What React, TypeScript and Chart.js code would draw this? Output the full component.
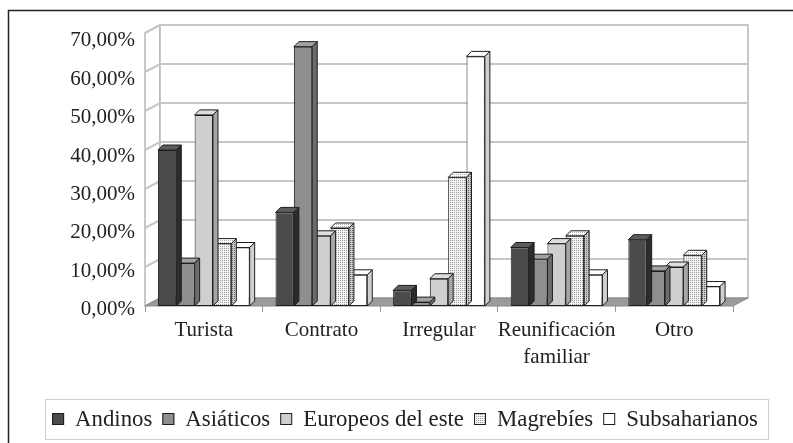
import React, { useEffect, useRef } from 'react';
import { Chart, registerables } from 'chart.js';

Chart.register(...registerables);

const categories: (string | string[])[] = ['Turista', 'Contrato', 'Irregular', ['Reunificación', 'familiar'], 'Otro'];
const seriesNames = ['Andinos', 'Asiáticos', 'Europeos del este', 'Magrebíes', 'Subsaharianos'];
const andinos = [40, 24, 4, 15, 17];
const asiaticos = [11, 66.5, 1, 12, 9];
const europeos = [49, 18, 7, 16, 10];
const magrebies = [16, 20, 33, 18, 13];
const subsaharianos = [15, 8, 64, 8, 5];
const yTicks = [0, 10, 20, 30, 40, 50, 60, 70];

const FONT = "'Liberation Serif', 'Times New Roman', serif";

function makePattern(bg: string, dot: string): CanvasPattern | string {
  const c = document.createElement('canvas');
  c.width = 4;
  c.height = 4;
  const g = c.getContext('2d');
  if (!g) return bg;
  g.fillStyle = bg;
  g.fillRect(0, 0, 4, 4);
  g.fillStyle = dot;
  g.fillRect(0, 0, 1, 1);
  g.fillRect(2, 2, 1, 1);
  g.fillRect(2, 0, 1, 1);
  g.fillRect(0, 2, 1, 1);
  const p = g.createPattern(c, 'repeat');
  return p || bg;
}

export default function App() {
  const ref = useRef<HTMLCanvasElement | null>(null);

  useEffect(() => {
    const canvas = ref.current;
    if (!canvas) return;

    const front: any[] = ['#4b4b4b', '#8e8e8e', '#cfcfcf', makePattern('#f4f4f4', '#9a9a9a'), '#ffffff'];
    const topC: any[] = ['#5c5c5c', '#a2a2a2', '#dedede', makePattern('#ffffff', '#b0b0b0'), '#ffffff'];
    const sideC: any[] = ['#2c2c2c', '#6c6c6c', '#a6a6a6', makePattern('#c8c8c8', '#6a6a6a'), '#cfcfcf'];
    const seriesData = [andinos, asiaticos, europeos, magrebies, subsaharianos];

    const DX = 15;
    const DY = 8;
    const BD = 5;

    const plugin = {
      id: 'excel3d',
      beforeDraw(chart: any) {
        const ctx = chart.ctx;
        ctx.save();
        ctx.fillStyle = '#ffffff';
        ctx.fillRect(0, 0, chart.width, chart.height);
        ctx.strokeStyle = '#222';
        ctx.lineWidth = 1.5;
        ctx.beginPath();
        ctx.moveTo(8.5, chart.height);
        ctx.lineTo(8.5, 10.5);
        ctx.lineTo(chart.width, 10.5);
        ctx.stroke();
        ctx.restore();
      },
      beforeDatasetsDraw(chart: any) {
        const ctx = chart.ctx;
        const { left, right, top, bottom } = chart.chartArea;
        const y = chart.scales.y;
        ctx.save();
        ctx.fillStyle = '#ffffff';
        ctx.strokeStyle = '#b8b8b8';
        ctx.lineWidth = 1.5;
        ctx.beginPath();
        ctx.moveTo(left, top);
        ctx.lineTo(left + DX, top - DY);
        ctx.lineTo(left + DX, bottom - DY);
        ctx.lineTo(left, bottom);
        ctx.closePath();
        ctx.fill();
        ctx.stroke();
        ctx.beginPath();
        ctx.rect(left + DX, top - DY, right - left, bottom - top);
        ctx.fill();
        ctx.stroke();
        ctx.strokeStyle = '#c6c6c6';
        ctx.lineWidth = 2;
        for (const v of yTicks) {
          if (v === 0) continue;
          const py = y.getPixelForValue(v);
          ctx.beginPath();
          ctx.moveTo(left, py);
          ctx.lineTo(left + DX, py - DY);
          ctx.lineTo(right + DX, py - DY);
          ctx.stroke();
        }
        ctx.fillStyle = '#9b9b9b';
        ctx.strokeStyle = '#8a8a8a';
        ctx.lineWidth = 1;
        ctx.beginPath();
        ctx.moveTo(left, bottom);
        ctx.lineTo(left + DX, bottom - DY);
        ctx.lineTo(right + DX, bottom - DY);
        ctx.lineTo(right, bottom);
        ctx.closePath();
        ctx.fill();
        ctx.stroke();
        ctx.restore();
      },
      afterDatasetDraw(chart: any, args: any) {
        const ctx = chart.ctx;
        const i = args.index;
        const meta = args.meta;
        ctx.save();
        ctx.strokeStyle = '#1e1e1e';
        ctx.lineWidth = 1;
        for (const el of meta.data) {
          const p = el.getProps(['x', 'y', 'base', 'width'], true);
          const l = p.x - p.width / 2;
          const r = p.x + p.width / 2;
          const t = Math.min(p.y, p.base);
          const b = Math.max(p.y, p.base);
          ctx.fillStyle = topC[i];
          ctx.beginPath();
          ctx.moveTo(l, t);
          ctx.lineTo(l + BD, t - BD);
          ctx.lineTo(r + BD, t - BD);
          ctx.lineTo(r, t);
          ctx.closePath();
          ctx.fill();
          ctx.stroke();
          ctx.fillStyle = sideC[i];
          ctx.beginPath();
          ctx.moveTo(r, t);
          ctx.lineTo(r + BD, t - BD);
          ctx.lineTo(r + BD, b - BD);
          ctx.lineTo(r, b);
          ctx.closePath();
          ctx.fill();
          ctx.stroke();
        }
        ctx.restore();
      },
      afterDraw(chart: any) {
        const ctx = chart.ctx;
        ctx.save();
        ctx.strokeStyle = '#cfcfcf';
        ctx.lineWidth = 1;
        ctx.strokeRect(45.5, 399.5, 723, 40);
        ctx.font = `22.8px ${FONT}`;
        ctx.textBaseline = 'alphabetic';
        const box = 12;
        const gapText = 11;
        const gapItem = 10;
        const widths = seriesNames.map((n) => ctx.measureText(n).width);
        let total = 0;
        widths.forEach((w, k) => {
          total += box + gapText + w + (k < widths.length - 1 ? gapItem : 0);
        });
        let x = 405 - total / 2;
        seriesNames.forEach((n, k) => {
          ctx.fillStyle = front[k];
          ctx.fillRect(x, 413, box, box);
          ctx.strokeStyle = '#1e1e1e';
          ctx.strokeRect(x + 0.5, 413.5, box - 1, box - 1);
          ctx.fillStyle = '#222';
          ctx.fillText(n, x + box + gapText, 426);
          x += box + gapText + widths[k] + gapItem;
        });
        ctx.restore();
      },
    };

    const labelMin = 0.912;
    const labelMax = 72.08;

    const chart = new Chart(canvas, {
      type: 'bar',
      data: {
        labels: categories as any,
        datasets: seriesNames.map((name, i) => ({
          label: name,
          data: seriesData[i],
          backgroundColor: front[i],
          borderColor: '#1e1e1e',
          borderWidth: 1,
          borderSkipped: false,
          categoryPercentage: 0.78,
          barPercentage: 1.0,
          yAxisID: 'y',
        })),
      },
      options: {
        responsive: false,
        animation: false,
        devicePixelRatio: 1,
        layout: { padding: { left: 0, right: 60, top: 33, bottom: 0 } },
        plugins: {
          legend: { display: false },
          tooltip: { enabled: false },
        },
        scales: {
          x: {
            type: 'category',
            offset: true,
            grid: {
              display: true,
              drawOnChartArea: false,
              drawTicks: true,
              tickLength: 6,
              offset: true,
              color: '#9a9a9a',
            },
            border: { display: false },
            ticks: {
              font: { family: FONT, size: 21, lineHeight: 1.3 },
              color: '#222',
              padding: 5,
              maxRotation: 0,
              autoSkip: false,
            },
            afterFit: (s: any) => {
              s.height = 137;
            },
          },
          y: {
            display: false,
            min: 0,
            max: 70,
          },
          yl: {
            type: 'linear',
            position: 'left',
            min: labelMin,
            max: labelMax,
            grid: { display: false, drawTicks: false },
            border: { display: false },
            ticks: {
              font: { family: FONT, size: 21 },
              color: '#222',
              padding: 10,
              autoSkip: false,
              callback: (v: any) => Number(v).toFixed(2).replace('.', ',') + '%',
            },
            afterBuildTicks: (s: any) => {
              s.ticks = yTicks.map((v) => ({ value: v }));
            },
            afterFit: (s: any) => {
              s.width = 145;
            },
          },
        } as any,
      },
      plugins: [plugin],
    });

    return () => {
      chart.destroy();
    };
  }, []);

  return (
    <canvas
      ref={ref}
      width={793}
      height={443}
      style={{ position: 'fixed', left: 0, top: 0, width: 793, height: 443, display: 'block' }}
    />
  );
}
